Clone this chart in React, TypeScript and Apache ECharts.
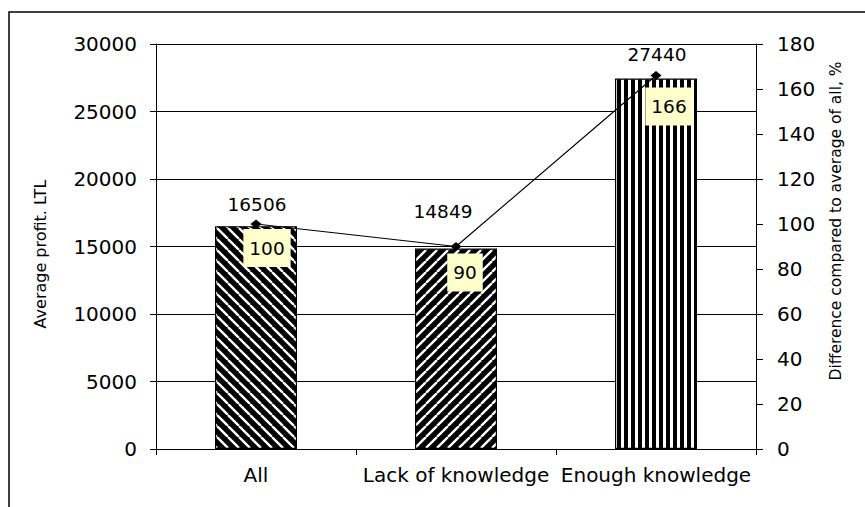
import React, { useEffect, useRef } from 'react';
import * as echarts from 'echarts';

// ---- data ----
const categories = ['All', 'Lack of knowledge', 'Enough knowledge'];
const averageProfit = [16506, 14849, 27440];
const differencePct = [100, 90, 166];
const profitTicks = [0, 5000, 10000, 15000, 20000, 25000, 30000];
const differenceTicks = [0, 20, 40, 60, 80, 100, 120, 140, 160, 180];
const profitAxisTitle = 'Average profit. LTL';
const differenceAxisTitle = 'Difference compared to average of all, %';

// ---- styling / layout tweaks ----
const FONT = 'DejaVu Sans';
const barStripeKinds: Array<'back' | 'fwd' | 'vert'> = ['back', 'fwd', 'vert'];
const barLabelOffsets = [[1, 0], [-13, -16], [1, -3]];
const lineLabelOffsets = [[11, 24], [9, 26], [13, 31]];

function stripePattern(kind: 'back' | 'fwd' | 'vert') {
  const c = document.createElement('canvas');
  let size = 11;
  if (kind === 'vert') {
    size = 7;
    c.width = size;
    c.height = size;
    const g = c.getContext('2d')!;
    g.fillStyle = '#000';
    g.fillRect(0, 0, size, size);
    g.fillStyle = '#fff';
    g.fillRect(4, 0, 3, size);
  } else {
    c.width = size;
    c.height = size;
    const g = c.getContext('2d')!;
    g.fillStyle = '#000';
    g.fillRect(0, 0, size, size);
    g.strokeStyle = '#fff';
    g.lineWidth = 2.4;
    g.beginPath();
    for (const o of [-size, 0, size]) {
      if (kind === 'fwd') {
        g.moveTo(o, size);
        g.lineTo(o + size, 0);
      } else {
        g.moveTo(o, 0);
        g.lineTo(o + size, size);
      }
    }
    g.stroke();
  }
  return { image: c, repeat: 'repeat', imageWidth: size, imageHeight: size } as any;
}

export default function App() {
  const ref = useRef<HTMLDivElement>(null);

  useEffect(() => {
    if (!ref.current) return;
    const chart = echarts.init(ref.current, undefined, { renderer: 'svg' });

    const pMin = profitTicks[0];
    const pMax = profitTicks[profitTicks.length - 1];
    const pStep = profitTicks[1] - profitTicks[0];
    const dMin = differenceTicks[0];
    const dMax = differenceTicks[differenceTicks.length - 1];
    const dStep = differenceTicks[1] - differenceTicks[0];

    const option: any = {
      animation: false,
      backgroundColor: '#fff',
      textStyle: { fontFamily: FONT, color: '#000' },
      grid: { left: 148, top: 36, width: 600, height: 405, containLabel: false, outerBoundsMode: 'none' },
      xAxis: {
        type: 'category',
        data: categories,
        boundaryGap: true,
        axisLine: { show: true, lineStyle: { color: '#000', width: 1 } },
        axisTick: { show: true, alignWithLabel: false, length: 6, lineStyle: { color: '#000' } },
        axisLabel: { color: '#000', fontSize: 20, fontFamily: FONT, margin: 16, interval: 0 },
        splitLine: { show: false },
      },
      yAxis: [
        {
          type: 'value',
          position: 'left',
          min: pMin,
          max: pMax,
          interval: pStep,
          axisLine: { show: true, lineStyle: { color: '#000', width: 1 } },
          axisTick: { show: true, length: 6, lineStyle: { color: '#000' } },
          axisLabel: {
            color: '#000',
            fontSize: 20,
            fontFamily: FONT,
            margin: 19,
            formatter: (v: number) => String(v),
          },
          splitLine: { show: true, lineStyle: { color: '#000', width: 1 } },
        },
        {
          type: 'value',
          position: 'right',
          min: dMin,
          max: dMax,
          interval: dStep,
          axisLine: { show: true, lineStyle: { color: '#000', width: 1 } },
          axisTick: { show: true, length: 7, lineStyle: { color: '#000' } },
          axisLabel: {
            color: '#000',
            fontSize: 20,
            fontFamily: FONT,
            margin: 21,
            formatter: (v: number) => String(v),
          },
          splitLine: { show: false },
        },
      ],
      series: [
        {
          type: 'bar',
          name: profitAxisTitle,
          yAxisIndex: 0,
          barWidth: 82,
          data: averageProfit.map((v, i) => ({
            value: v,
            itemStyle: { color: stripePattern(barStripeKinds[i]) },
            label: { offset: barLabelOffsets[i] },
          })),
          itemStyle: { borderColor: '#000', borderWidth: 1.2 },
          label: {
            show: true,
            position: 'top',
            distance: 12,
            color: '#000',
            fontSize: 18.5,
            fontFamily: FONT,
          },
        },
        {
          type: 'line',
          name: differenceAxisTitle,
          yAxisIndex: 1,
          symbol: 'diamond',
          symbolSize: [11, 9],
          itemStyle: { color: '#000' },
          lineStyle: { color: '#000', width: 1.2 },
          data: differencePct.map((v, i) => ({
            value: v,
            label: { offset: lineLabelOffsets[i] },
          })),
          label: {
            show: true,
            position: 'inside',
            color: '#000',
            fontSize: 18.5,
            lineHeight: 20,
            fontFamily: FONT,
            backgroundColor: '#FFFFCC',
            padding: [9, 6, 9, 6],
          },
          z: 3,
        },
      ],
      graphic: [
        {
          type: 'rect',
          silent: true,
          z: -10,
          shape: { x: 1, y: 4, width: 2000, height: 2000 },
          style: { fill: 'none', stroke: '#000', lineWidth: 1.5 },
        },
        {
          type: 'text',
          x: 32,
          y: 246,
          rotation: Math.PI / 2,
          style: {
            text: profitAxisTitle,
            fontSize: 16,
            fontFamily: FONT,
            fill: '#000',
            align: 'center',
            verticalAlign: 'middle',
          },
        },
        {
          type: 'text',
          x: 828,
          y: 213,
          rotation: Math.PI / 2,
          style: {
            text: differenceAxisTitle,
            fontSize: 15.5,
            fontFamily: FONT,
            fill: '#000',
            align: 'center',
            verticalAlign: 'middle',
          },
        },
      ],
    };

    chart.setOption(option);
    return () => chart.dispose();
  }, []);

  return (
    <div
      ref={ref}
      style={{ position: 'absolute', left: 8, top: 8, width: 857, height: 499 }}
    />
  );
}
